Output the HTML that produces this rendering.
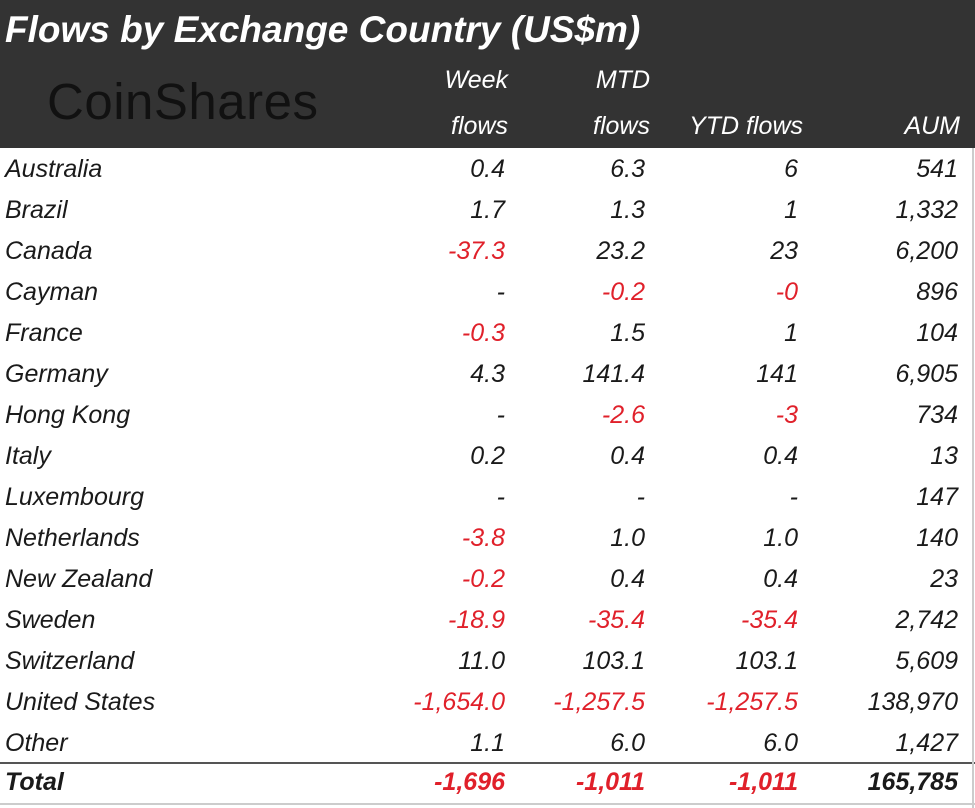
<!DOCTYPE html>
<html><head><meta charset="utf-8">
<style>
html,body{margin:0;padding:0;background:#fff;}
#root{position:relative;width:975px;height:808px;overflow:hidden;background:#fff;font-family:"Liberation Sans",sans-serif;}
#hdr{position:absolute;left:0;top:0;width:975px;height:148px;background:#333333;}
.t{position:absolute;white-space:nowrap;font-style:italic;font-size:25px;color:#1a1a1a;line-height:30px;}
.h{color:#fff;font-size:25px;}
.r{text-align:right;}
.neg{color:#e0202a;}
.tot{font-weight:bold;font-size:25px;}
</style></head>
<body>
<div id="root">
<div id="hdr"></div>
<div class="t" style="left:5px;top:10px;color:#fff;font-weight:bold;font-size:37px;line-height:40px;">Flows by Exchange Country (US$m)</div>
<div class="t" style="left:47px;top:75px;color:#111;font-style:normal;font-size:51px;line-height:54px;letter-spacing:0.5px;">CoinShares</div>
<div class="t h r" style="right:467px;top:65px;">Week</div>
<div class="t h r" style="right:467px;top:111px;">flows</div>
<div class="t h r" style="right:325px;top:65px;">MTD</div>
<div class="t h r" style="right:325px;top:111px;">flows</div>
<div class="t h r" style="right:172px;top:111px;">YTD flows</div>
<div class="t h r" style="right:15px;top:111px;">AUM</div>
<div style="position:absolute;left:0;top:762px;width:975px;height:2px;background:#555;"></div>
<div style="position:absolute;left:0;top:803px;width:975px;height:2px;background:#ccc;"></div>
<div style="position:absolute;left:972px;top:148px;width:2px;height:660px;background:#ccc;"></div>
</div>
<script>
const countries=["Australia","Brazil","Canada","Cayman","France","Germany","Hong Kong","Italy","Luxembourg","Netherlands","New Zealand","Sweden","Switzerland","United States","Other"];
const weekFlows=["0.4","1.7","-37.3","-","-0.3","4.3","-","0.2","-","-3.8","-0.2","-18.9","11.0","-1,654.0","1.1"];
const mtdFlows=["6.3","1.3","23.2","-0.2","1.5","141.4","-2.6","0.4","-","1.0","0.4","-35.4","103.1","-1,257.5","6.0"];
const ytdFlows=["6","1","23","-0","1","141","-3","0.4","-","1.0","0.4","-35.4","103.1","-1,257.5","6.0"];
const aum=["541","1,332","6,200","896","104","6,905","734","13","147","140","23","2,742","5,609","138,970","1,427"];
const totals=["-1,696","-1,011","-1,011","165,785"];
const root=document.getElementById('root');
const rights=[470,330,177,17];
function cell(txt,left,right,top,cls,name){
  const d=document.createElement('div');
  d.className='t '+cls;
  if(left!==null)d.style.left=left+'px';else d.style.right=right+'px';
  d.style.top=top+'px';
  if(txt.startsWith('-')&&txt!=='-'){d.classList.add('neg');}
  d.textContent=txt;
  
  
  root.appendChild(d);
}
countries.forEach((c,i)=>{
  const top=154+i*41;
  cell(c,5,null,top,'','country-'+c.toLowerCase().replace(/ /g,'-'));
  [weekFlows[i],mtdFlows[i],ytdFlows[i],aum[i]].forEach((v,j)=>{
    cell(v,null,rights[j],top,'r',['week','mtd','ytd','aum'][j]+'-value');
  });
});
cell('Total',5,null,767,'tot','total-label');
totals.forEach((v,j)=>cell(v,null,rights[j],767,'r tot','total-'+['week','mtd','ytd','aum'][j]));
</script>
</body></html>
